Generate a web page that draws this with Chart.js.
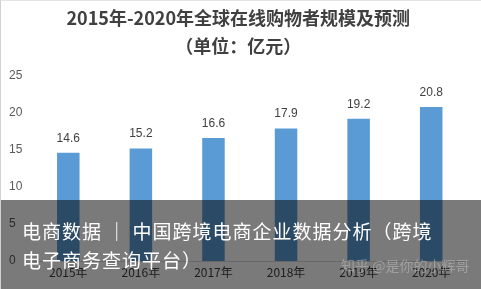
<!DOCTYPE html>
<html>
<head>
<meta charset="utf-8">
<script src="https://cdn.jsdelivr.net/npm/chart.js"></script>
<style>
  html, body { margin: 0; padding: 0; background: #fff; }
  #wrap { position: relative; width: 481px; height: 289px; overflow: hidden; box-sizing: border-box; border-left: 1px solid #d0d0d0; border-top: 1px solid #e4e4e4; }
  #chart { position: absolute; left: 0; top: 0; }
  #banner { position: absolute; left: 0; top: 199px; width: 481px; height: 90px; background: rgba(0,0,0,0.52); }
  #banner .txt { position: absolute; left: 21px; color: #fff; font-family: "Noto Sans CJK SC", sans-serif; font-size: 19px; letter-spacing: 1px; white-space: nowrap; line-height: 29px; top: 16px; }
  #mark { position: absolute; left: 340px; top: 254px; color: rgba(190,190,190,0.55); font-family: "Noto Sans CJK SC", sans-serif; font-size: 14px; white-space: nowrap; }
</style>
</head>
<body>
<div id="wrap">
  <canvas id="chart" width="481" height="289"></canvas>
  <div id="banner"><div class="txt">电商数据 ｜ 中国跨境电商企业数据分析（跨境<br>电子商务查询平台）</div></div>
  <div id="mark">知乎 @是你的小辉哥</div>
</div>
<script>
const years = ["2015年", "2016年", "2017年", "2018年", "2019年", "2020年"];
const shoppers = [14.6, 15.2, 16.6, 17.9, 19.2, 20.8];
const titleLines = ["2015年-2020年全球在线购物者规模及预测", "（单位：亿元）"];

// value labels above bars
const barLabels = {
  id: "barLabels",
  afterDatasetsDraw(chart) {
    const ctx = chart.ctx;
    const meta = chart.getDatasetMeta(0);
    ctx.save();
    ctx.font = "12px 'Liberation Sans', Arial, sans-serif";
    ctx.fillStyle = "#404040";
    ctx.textAlign = "center";
    ctx.textBaseline = "middle";
    meta.data.forEach((bar, i) => {
      ctx.fillText(shoppers[i].toFixed(1), bar.x, bar.y - 14.5);
    });
    ctx.restore();
  }
};

new Chart(document.getElementById("chart"), {
  type: "bar",
  data: {
    labels: years,
    datasets: [{
      data: shoppers,
      backgroundColor: "#5b9bd5",
      barPercentage: 0.31,
      categoryPercentage: 1
    }]
  },
  options: {
    responsive: false,
    animation: false,
    layout: { padding: { left: 8, right: 14.5, top: 0, bottom: 6.6 } },
    plugins: {
      legend: { display: false },
      tooltip: { enabled: false },
      title: {
        display: true,
        text: titleLines,
        color: "#404040",
        font: { family: "'Noto Sans CJK SC', sans-serif", size: 18, weight: "bold", lineHeight: 1.55 },
        padding: { top: 3, bottom: 16 }
      }
    },
    scales: {
      y: {
        min: 0, max: 25,
        afterFit: s => { s.width = 23; },
        grid: { display: false, drawTicks: false },
        border: { display: false },
        ticks: {
          stepSize: 5, crossAlign: "far", padding: 0,
          color: "#595959",
          font: { family: "'Liberation Sans', Arial, sans-serif", size: 12 }
        }
      },
      x: {
        grid: { display: false, drawTicks: false },
        border: { display: true, color: "#d9d9d9" },
        ticks: {
          padding: 4,
          color: "#404040",
          font: { family: "'Noto Sans CJK SC', sans-serif", size: 12 }
        }
      }
    }
  },
  plugins: [barLabels]
});
</script>
</body>
</html>
